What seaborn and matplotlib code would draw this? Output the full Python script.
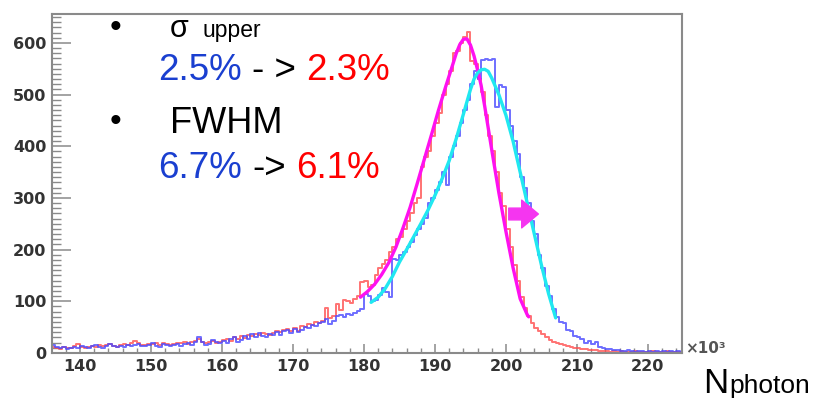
import numpy as np
import pandas as pd
import matplotlib
matplotlib.use("Agg")
import matplotlib.pyplot as plt
import seaborn as sns
from matplotlib.ticker import MultipleLocator

# ---------------- data (N_photon in units of 10^3) ----------------
bin_start = 136.0
bin_width = 0.5

# after (red) histogram counts, one value per 0.5 bin from 136.0
red_counts = [
    12, 10, 8, 11, 9, 10, 13, 18, 12, 10,
    11, 14, 12, 16, 13, 15, 17, 14, 12, 15,
    18, 16, 20, 24, 19, 16, 15, 18, 17, 20,
    16, 19, 18, 15, 17, 20, 19, 22, 18, 21,
    24, 28, 22, 19, 21, 24, 20, 22, 25, 28,
    24, 30, 27, 32, 29, 34, 33, 37, 35, 39,
    36, 34, 38, 42, 40, 44, 46, 42, 48, 43,
    52, 50, 56, 54, 60, 58, 62, 88, 68, 72,
    95, 84, 103, 100, 97, 105, 110, 138, 140, 128,
    132, 150, 165, 172, 180, 195, 205, 220, 225, 240,
    255, 270, 290, 300, 360, 380, 390, 420, 445, 465,
    500, 520, 545, 580, 585, 600, 612, 622, 565, 560,
    530, 505, 460, 420, 390, 350, 310, 285, 240, 205,
    170, 140, 108, 88, 72, 58, 48, 42, 36, 30,
    26, 22, 20, 17, 15, 13, 12, 10, 9, 8,
    7, 6, 6, 5, 4, 3, 4, 2, 3, 2,
    3, 2, 1, 2, 3, 1, 2, 2, 1, 3,
    2, 1, 2, 3, 1, 2, 1, 2,
]

# before (blue) histogram counts
blue_counts = [
    16, 12, 9, 11, 8, 10, 12, 9, 14, 11,
    10, 13, 16, 12, 10, 14, 18, 13, 11, 14,
    12, 15, 13, 16, 18, 14, 13, 16, 19, 14,
    12, 17, 15, 13, 16, 18, 14, 17, 19, 16,
    22, 30, 21, 16, 18, 26, 22, 19, 24, 20,
    27, 30, 22, 26, 33, 28, 36, 31, 38, 33,
    30, 37, 35, 40, 34, 42, 45, 39, 46, 40,
    44, 50, 48, 55, 52, 58, 60, 66, 56, 62,
    72, 74, 70, 75, 73, 78, 82, 86, 115, 110,
    100, 102, 112, 125, 118, 108, 182, 180, 190, 195,
    205, 215, 228, 240, 250, 262, 290, 300, 315, 330,
    350, 325, 380, 400, 420, 445, 470, 490, 520, 545,
    530, 567, 569, 567, 569, 476, 519, 515, 470, 440,
    410, 385, 340, 320, 290, 255, 230, 190, 165, 130,
    110, 85, 70, 60, 58, 45, 42, 33, 30, 27,
    20, 24, 18, 22, 12, 10, 8, 7, 6, 5,
    4, 3, 5, 3, 2, 4, 3, 2, 3, 2,
    3, 2, 4, 2, 3, 2, 3, 2,
]

# fitted curves
red_fit_x = [179.5, 180.5, 181.5, 182.5, 183.5, 184.5, 185.5, 186.5, 187.5, 188.5,
             189.5, 190.5, 191.5, 192.5, 193.0, 193.5, 194.0, 194.5, 195.0, 195.5,
             196.0, 196.5, 197.0, 198.0, 199.0, 200.0, 201.0, 202.0, 203.0, 203.2]
red_fit_y = [108, 119, 133, 152, 175, 205, 242, 282, 328, 375,
             422, 470, 515, 558, 580, 597, 607, 608, 596, 575,
             548, 518, 478, 393, 310, 235, 165, 105, 74, 70]

cyan_fit_x = [181, 182, 183, 184, 185, 186, 187, 188, 189, 190, 191, 192, 193, 194,
              195, 195.5, 196, 196.5, 197, 197.5, 198, 198.5, 199, 200, 201, 202,
              203, 204, 205, 206, 207]
cyan_fit_y = [98, 108, 125, 148, 176, 200, 225, 250, 276, 305, 337, 372, 415, 462,
              510, 530, 542, 548, 549, 545, 532, 516, 500, 460, 410, 350,
              290, 230, 170, 115, 68]

x_ticks = [140, 150, 160, 170, 180, 190, 200, 210, 220]
y_ticks = [0, 100, 200, 300, 400, 500, 600]

# ---------------- style ----------------
sns.set_style("ticks")
plt.rcParams["font.family"] = ["Liberation Sans", "DejaVu Sans"]

W, H = 817, 404
fig = plt.figure(figsize=(W / 100, H / 100), dpi=100)
ax = fig.add_axes([52 / W, 1 - 353 / H, 630 / W, 339 / H])

n_bins = len(red_counts)
edges = bin_start + bin_width * np.arange(n_bins + 1)
centers = (edges[:-1] + edges[1:]) / 2
df = pd.DataFrame({"n": centers, "red": red_counts, "blue": blue_counts})
brange = (float(edges[0]), float(edges[-1]))

sns.histplot(data=df, x="n", weights="red", binwidth=bin_width, binrange=brange,
             element="step", fill=False, color="#ff5050", linewidth=1.4, alpha=0.8, ax=ax)
sns.histplot(data=df, x="n", weights="blue", binwidth=bin_width, binrange=brange,
             element="step", fill=False, color="#4a4aff", linewidth=1.4, alpha=0.8, ax=ax)
sns.lineplot(x=red_fit_x, y=red_fit_y, color="#ff10f0", linewidth=2.4,
             estimator=None, sort=False, ax=ax)
sns.lineplot(x=cyan_fit_x, y=cyan_fit_y, color="#20e8f0", linewidth=2.4,
             estimator=None, sort=False, ax=ax)

ax.set_xlim(136.05, 224.8)
ax.set_ylim(0, 656)
ax.set_xlabel("")
ax.set_ylabel("")

ax.set_xticks(x_ticks)
ax.set_yticks(y_ticks)
ax.xaxis.set_minor_locator(MultipleLocator(2))
ax.yaxis.set_minor_locator(MultipleLocator(10))

spine_col = "#8a8a8a"
for s in ax.spines.values():
    s.set_visible(True)
    s.set_color(spine_col)
    s.set_linewidth(1.5)

ax.tick_params(axis="x", which="major", direction="in", length=6.5, width=1.1,
               color=spine_col, pad=4.5, labelsize=11.5, labelcolor="#333333",
               top=False)
ax.tick_params(axis="x", which="minor", direction="in", length=3.3, width=1.0,
               color=spine_col, top=False)
ax.tick_params(axis="y", which="major", direction="in", length=13.5, width=1.1,
               color=spine_col, pad=4, labelsize=11.5, labelcolor="#333333",
               right=False)
ax.tick_params(axis="y", which="minor", direction="in", length=6.5, width=1.0,
               color=spine_col, right=False)
for lab in ax.get_xticklabels() + ax.get_yticklabels():
    lab.set_fontfamily("DejaVu Sans")
    lab.set_fontweight("bold")

# magenta arrow annotation
ax.annotate("", xy=(0.772, 0.41), xytext=(0.725, 0.41), xycoords="axes fraction",
            arrowprops=dict(facecolor="#f535f0", edgecolor="#f535f0",
                            width=8.5, headwidth=20, headlength=12))


def ftxt(x, y, s, **kw):
    fig.text(x / W, 1 - y / H, s, va="baseline", ha="left", **kw)


blue_t = "#1a3fd0"
red_t = "#ff0000"
ftxt(110, 37, "•", fontsize=24, color="black")
ftxt(170, 37, "σ", fontsize=22, color="black")
ftxt(203, 37, "upper", fontsize=16.5, color="black")
ftxt(158, 80, "2.5%", fontsize=26.5, color=blue_t)
ftxt(252, 80, "- >", fontsize=26.5, color="black")
ftxt(306, 80, "2.3%", fontsize=26.5, color=red_t)
ftxt(110, 131, "•", fontsize=24, color="black")
ftxt(170, 133, "FWHM", fontsize=26, color="black")
ftxt(158, 178, "6.7%", fontsize=26.5, color=blue_t)
ftxt(252, 178, "->", fontsize=26.5, color="black")
ftxt(296, 178, "6.1%", fontsize=26.5, color=red_t)

ftxt(685, 353, "×10³", fontsize=11, color="#555555",
     fontfamily="DejaVu Sans", fontweight="bold")
ftxt(703, 393, "N", fontsize=25, color="black")
ftxt(729, 393, "photon", fontsize=19, color="black")

fig.savefig("out.png", dpi=100)
